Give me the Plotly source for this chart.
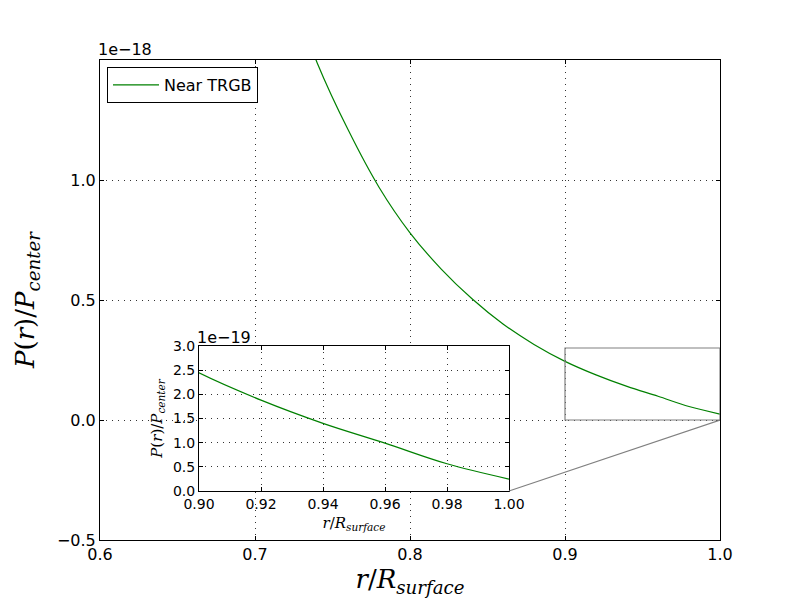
import plotly.graph_objects as go

# ---- data ----
r_over_R = [0.72, 0.74, 0.76, 0.78, 0.80, 0.82, 0.84, 0.86, 0.88,
            0.90, 0.92, 0.94, 0.96, 0.98, 1.00]
p_ratio = [1.84e-18, 1.49e-18, 1.21e-18, 0.97e-18, 0.78e-18, 0.63e-18,
           0.505e-18, 0.40e-18, 0.315e-18, 0.2444e-18, 0.188e-18,
           0.140e-18, 0.099e-18, 0.0563e-18, 0.0247e-18]
series_name = "Near TRGB"

main_x_ticks = [0.6, 0.7, 0.8, 0.9, 1.0]
main_y_ticks = [-0.5, 0.0, 0.5, 1.0]
inset_x_ticks = [0.90, 0.92, 0.94, 0.96, 0.98, 1.00]
inset_y_ticks = [0.0, 0.5, 1.0, 1.5, 2.0, 2.5, 3.0]

main_scale = 1e-18
inset_scale = 1e-19
main_xrange = [0.6, 1.0]
main_yrange = [-0.5, 1.5]
inset_xrange = [0.9, 1.0]
inset_yrange = [0.0, 3.0]

# ---- layout geometry ----
main_xdom = [0.125, 0.9]
main_ydom = [0.1, 0.9]
ins_xdom = [199 / 800, 509 / 800]
ins_ydom = [1 - 491 / 600, 1 - 346 / 600]

GREEN = "#008000"
TICKFONT = dict(family="DejaVu Sans", size=16, color="black")
INSFONT = dict(family="DejaVu Sans", size=14, color="black")
LABFONT = dict(family="DejaVu Serif", size=26, color="black")
INSLAB = dict(family="DejaVu Serif", size=15, color="black")

xl_main = "<i>r</i>/<i>R</i><sub><i>surface</i></sub>"
yl_main = "<i>P</i>(<i>r</i>)/<i>P</i><sub><i>center</i></sub>"

fig = go.Figure()
fig.add_trace(go.Scatter(
    x=r_over_R, y=[p / main_scale for p in p_ratio], mode="lines",
    line=dict(color=GREEN, width=1.2, shape="spline"), name=series_name,
    xaxis="x", yaxis="y", cliponaxis=True))
fig.add_trace(go.Scatter(
    x=r_over_R, y=[p / inset_scale for p in p_ratio], mode="lines",
    line=dict(color=GREEN, width=1.2, shape="spline"), name=series_name,
    showlegend=False, xaxis="x2", yaxis="y2"))

axis_common = dict(showline=True, linecolor="black", linewidth=1, mirror="ticks",
                   ticks="inside", ticklen=4, tickcolor="black", showgrid=True,
                   gridcolor="#333333", griddash="1px,5px", gridwidth=0.8, zeroline=False,
                   fixedrange=True)

fig.update_layout(
    width=800, height=600, paper_bgcolor="white", plot_bgcolor="white",
    margin=dict(l=0, r=0, t=0, b=0),
    xaxis=dict(domain=main_xdom, range=main_xrange, tickvals=main_x_ticks,
               ticktext=["%.1f" % v for v in main_x_ticks], tickfont=TICKFONT,
               title=dict(text=xl_main, font=LABFONT, standoff=1), anchor="y",
               automargin=False, **axis_common),
    yaxis=dict(domain=main_ydom, range=main_yrange, tickvals=main_y_ticks,
               ticktext=[("%.1f" % v).replace("-", "\u2212") for v in main_y_ticks],
               tickfont=TICKFONT,
               title=dict(text=yl_main, font=LABFONT, standoff=14), anchor="x",
               automargin=False, **axis_common),
    xaxis2=dict(domain=ins_xdom, range=inset_xrange, tickvals=inset_x_ticks,
                ticktext=["%.2f" % v for v in inset_x_ticks], tickfont=INSFONT,
                title=dict(text=xl_main, font=INSLAB, standoff=6), anchor="y2",
                automargin=False, **axis_common),
    yaxis2=dict(domain=ins_ydom, range=inset_yrange, tickvals=inset_y_ticks,
                ticktext=["%.1f" % v for v in inset_y_ticks], tickfont=INSFONT,
                title=dict(text=yl_main, font=INSLAB, standoff=6), anchor="x2",
                automargin=False, **axis_common),
    showlegend=True,
    legend=dict(x=107 / 800, y=1 - 67 / 600, xanchor="left", yanchor="top",
                bgcolor="white", bordercolor="black", borderwidth=1,
                font=dict(family="DejaVu Sans", size=16, color="black"),
                itemwidth=46),
)

# white background for inset (covers main gridlines)
fig.add_shape(type="rect", xref="x2 domain", yref="y2 domain", x0=0, x1=1, y0=0, y1=1,
              fillcolor="white", line=dict(width=0), layer="below")

# zoom rectangle on main axes
fig.add_shape(type="rect", xref="x", yref="y",
              x0=inset_xrange[0], x1=inset_xrange[1],
              y0=inset_yrange[0] * inset_scale / main_scale,
              y1=inset_yrange[1] * inset_scale / main_scale,
              line=dict(color="#808080", width=1.2), layer="above")

# connector from inset bottom-right corner to zoom rectangle bottom-right corner
def paper_to_main(px, py):
    dx = main_xrange[0] + (px - main_xdom[0]) / (main_xdom[1] - main_xdom[0]) * (main_xrange[1] - main_xrange[0])
    dy = main_yrange[0] + (py - main_ydom[0]) / (main_ydom[1] - main_ydom[0]) * (main_yrange[1] - main_yrange[0])
    return dx, dy

cx, cy = paper_to_main(ins_xdom[1], ins_ydom[0])
fig.add_shape(type="line", xref="x", yref="y", x0=cx, y0=cy,
              x1=inset_xrange[1], y1=inset_yrange[0] * inset_scale / main_scale,
              line=dict(color="#808080", width=1.2), layer="above")

# offset texts
fig.add_annotation(text="1e\u221218", xref="paper", yref="paper", x=main_xdom[0], y=main_ydom[1],
                   xanchor="left", yanchor="bottom", showarrow=False, yshift=-1, xshift=-4,
                   font=dict(family="DejaVu Sans", size=16, color="black"))
fig.add_annotation(text="1e\u221219", xref="paper", yref="paper", x=ins_xdom[0], y=ins_ydom[1],
                   xanchor="left", yanchor="bottom", showarrow=False, yshift=-3, xshift=-4,
                   font=dict(family="DejaVu Sans", size=16, color="black"))

fig.write_html("out.html", config={"displayModeBar": False},
               post_script="document.body.style.margin='0';")
